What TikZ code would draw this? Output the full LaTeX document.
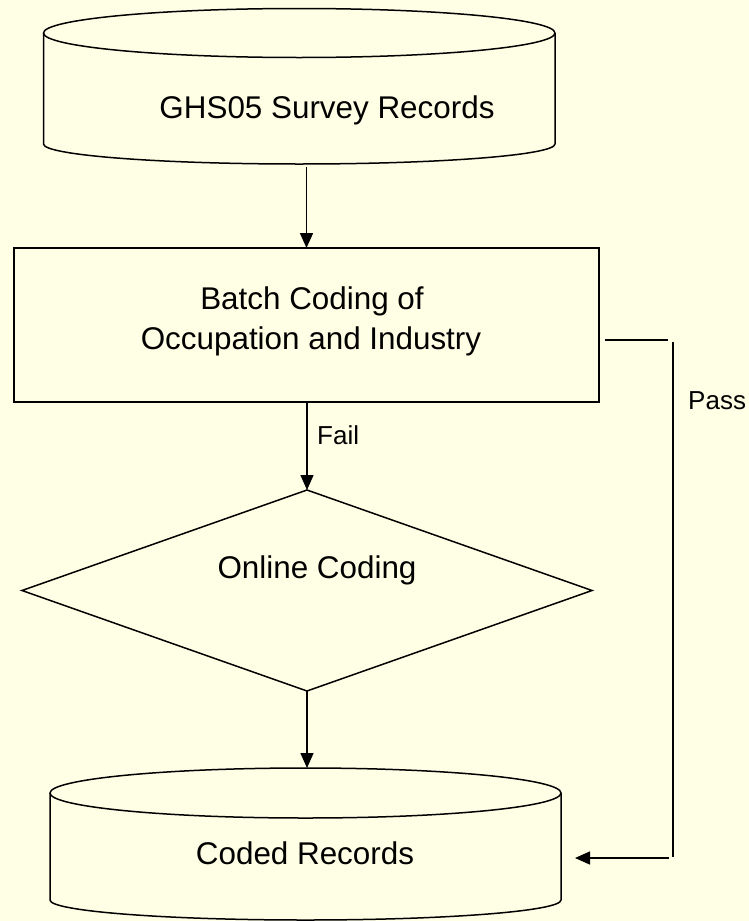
\documentclass[tikz,border=0pt]{standalone}
\usepackage{fontspec}
\setmainfont{Liberation Sans}
\usetikzlibrary{shapes.geometric,arrows.meta}
\definecolor{bgc}{RGB}{255,255,229}
\tikzset{
  shp/.style={draw=black, line width=1.5pt},
  arr/.style={draw=black, line width=1.5pt, -{Triangle[length=15pt,width=13pt]}},
  lbl/.style={font=\fontsize{31.4}{40}\selectfont, inner sep=0pt, anchor=base},
  small/.style={font=\fontsize{26}{30}\selectfont, inner sep=0pt, anchor=base west},
  box/.style={draw=none, inner sep=0pt, outer sep=0pt},
}
\begin{document}
\begin{tikzpicture}[x=1pt,y=-1pt]
\fill[bgc] (0,0) rectangle (749,921);
\useasboundingbox (0,0) rectangle (749,921);

% source cylinder
\draw[shp] (299.25,33) ellipse [x radius=255.75pt, y radius=24.5pt];
\draw[shp] (43.5,33) -- (43.5,144) arc[start angle=180, end angle=360, x radius=255.75pt, y radius=20pt] -- (555,33);
\node[box, minimum width=511.5pt, minimum height=155.5pt] (src) at (299.25,86.25) {};
\node[lbl] (srctxt) at (327,118) {GHS05 Survey Records};

% batch coding box
\node[shp, rectangle, minimum width=585pt, minimum height=154pt, inner sep=0pt, outer sep=0pt] (batch) at (306.5,325) {};
\node[lbl] (batchA) at (312,309) {Batch Coding of};
\node[lbl] (batchB) at (311,349) {Occupation and Industry};

% online coding diamond
\node[shp, diamond, minimum width=570pt, minimum height=201pt, inner sep=0pt, outer sep=0pt] (online) at (307,590.5) {};
\node[lbl] (onlinetxt) at (317,578) {Online Coding};

% coded records cylinder
\draw[shp] (305.5,793) ellipse [x radius=255.5pt, y radius=25pt];
\draw[shp] (50,793) -- (50,900) arc[start angle=180, end angle=360, x radius=255.5pt, y radius=20pt] -- (561,793);
\node[box, minimum width=511pt, minimum height=152pt] (coded) at (305.5,844) {};
\node[lbl] (codedtxt) at (305,864) {Coded Records};

% connectors
\draw[arr] ([yshift=-3pt]src.south -| batch.north) -- (batch.north);
\draw[arr] (batch.south -| online.north) -- (online.north);
\node[small] (fail) at (317,444) {Fail};
\draw[arr] (online.south) -- (online.south |- coded.north);

% pass route
\coordinate (pa) at (605,340);
\coordinate (pb) at (668,340);
\coordinate (pc) at (673,342);
\coordinate (pd) at (673,857);
\coordinate (pe) at (669,858);
\coordinate (pf) at (575,858);
\draw[shp] (pa) -- (pb);
\draw[shp] (pc) -- (pd);
\draw[arr] (pe) -- (pf);
\node[small] (pass) at (688,409) {Pass};
\end{tikzpicture}
\end{document}
